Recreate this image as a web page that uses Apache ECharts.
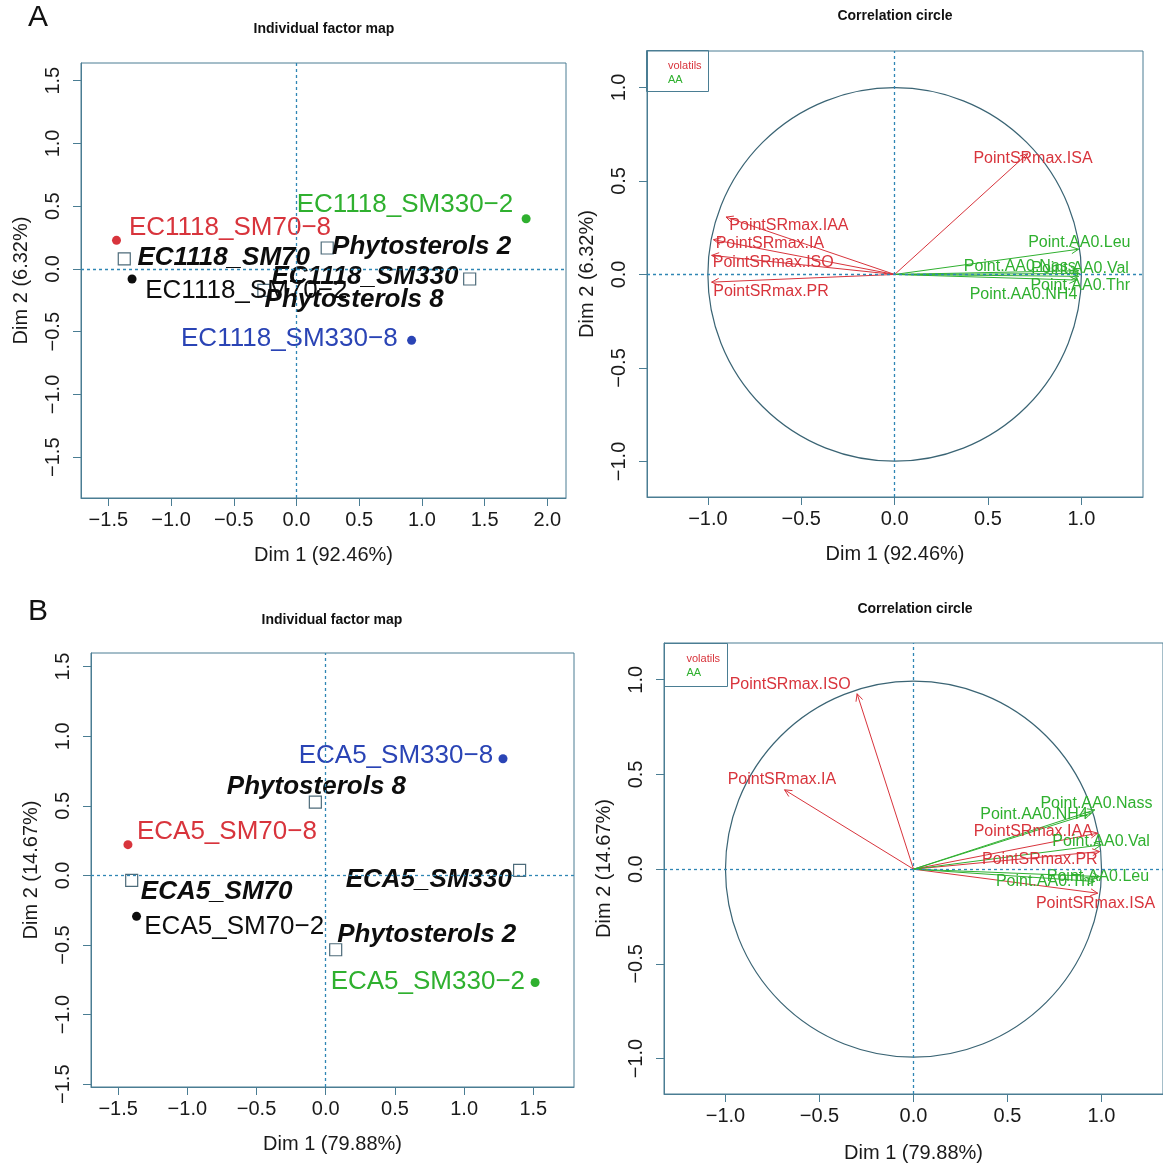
<!DOCTYPE html>
<html>
<head>
<meta charset="utf-8">
<title>PCA factor maps</title>
<script src="https://cdn.jsdelivr.net/npm/echarts@6.0.0/dist/echarts.min.js"></script>
<style>
html, body { margin: 0; padding: 0; background: #fff; }
#chart { width: 1163px; height: 1164px; }
</style>
</head>
<body>
<div id="chart"></div>
<script>
// ---------- A : EC1118 ----------
const indNamesA = ['EC1118_SM70-8', 'EC1118_SM70-2', 'EC1118_SM330-2', 'EC1118_SM330-8']
const indXA = [-1.435, -1.311, 1.831, 0.918]
const indYA = [0.228, -0.080, 0.400, -0.569]
const indLabXA = [-0.53, -0.40, 0.865, -0.057]
const indLabYA = [0.327, -0.178, 0.507, -0.558]
const supNamesA = ['EC1118_SM70', 'EC1118_SM330', 'Phytosterols 2', 'Phytosterols 8']
const supXA = [-1.373, 1.381, 0.245, -0.26]
const supYA = [0.080, -0.080, 0.167, -0.17]
const supLabXA = [-0.58, 0.546, 0.998, 0.46]
const supLabYA = [0.088, -0.059, 0.18, -0.245]

const volNamesA = ['PointSRmax.ISA', 'PointSRmax.IAA', 'PointSRmax.IA', 'PointSRmax.ISO', 'PointSRmax.PR']
const volXA = [0.712, -0.903, -0.970, -0.980, -0.980]
const volYA = [0.646, 0.307, 0.186, 0.102, -0.041]
const volLabXA = [0.741, -0.566, -0.668, -0.65, -0.662]
const volLabYA = [0.619, 0.262, 0.164, 0.066, -0.089]
const aaNamesA = ['Point.AA0.Leu', 'Point.AA0.Nass', 'Point.AA0.Val', 'Point.AA0.Thr', 'Point.AA0.NH4']
const aaXA = [0.985, 0.985, 0.99, 0.985, 0.975]
const aaYA = [0.135, 0.02, 0.005, -0.01, -0.03]
const aaLabXA = [0.989, 0.67, 0.993, 0.994, 0.69]
const aaLabYA = [0.173, 0.044, 0.03, -0.059, -0.105]

// ---------- B : ECA5 ----------
const indNamesB = ['ECA5_SM70-8', 'ECA5_SM70-2', 'ECA5_SM330-2', 'ECA5_SM330-8']
const indXB = [-1.429, -1.367, 1.513, 1.281]
const indYB = [0.221, -0.294, -0.769, 0.838]
const indLabXB = [-0.714, -0.661, 0.738, 0.507]
const indLabYB = [0.316, -0.366, -0.761, 0.862]
const supNamesB = ['ECA5_SM70', 'ECA5_SM330', 'Phytosterols 2', 'Phytosterols 8']
const supXB = [-1.402, 1.401, 0.072, -0.075]
const supYB = [-0.036, 0.036, -0.534, 0.527]
const supLabXB = [-0.788, 0.745, 0.73, -0.067]
const supLabYB = [-0.115, -0.031, -0.426, 0.639]

const volNamesB = ['PointSRmax.ISO', 'PointSRmax.IA', 'PointSRmax.IAA', 'PointSRmax.PR', 'PointSRmax.ISA']
const volXB = [-0.30, -0.686, 0.98, 0.99, 0.98]
const volYB = [0.926, 0.419, 0.19, 0.093, -0.127]
const volLabXB = [-0.656, -0.70, 0.637, 0.672, 0.968]
const volLabYB = [0.974, 0.472, 0.199, 0.049, -0.18]
const aaNamesB = ['Point.AA0.Nass', 'Point.AA0.NH4', 'Point.AA0.Val', 'Point.AA0.Leu', 'Point.AA0.Thr']
const aaXB = [0.964, 0.946, 0.999, 0.99, 0.964]
const aaYB = [0.313, 0.296, 0.128, -0.039, -0.065]
const aaLabXB = [0.973, 0.641, 0.998, 0.981, 0.703]
const aaLabYB = [0.345, 0.287, 0.146, -0.039, -0.065]

// axis ticks and titles
const ticksXA = [-1.5, -1, -0.5, 0, 0.5, 1, 1.5, 2]
const ticksXB = [-1.5, -1, -0.5, 0, 0.5, 1, 1.5]
const ticksInd = [-1.5, -1, -0.5, 0, 0.5, 1, 1.5]
const ticksCor = [-1, -0.5, 0, 0.5, 1]
const dim1A = 'Dim 1 (92.46%)'
const dim2A = 'Dim 2 (6.32%)'
const dim1B = 'Dim 1 (79.88%)'
const dim2B = 'Dim 2 (14.67%)'

// styles
const FONT = '"Liberation Sans", Arial, Helvetica, sans-serif'
const BOX = '#4a7d93'
const DASH = '#2f86b4'
const TXT = '#1a1a1a'
const RED = '#d8343c'
const GREEN = '#2fb02f'
const BLUE = '#2a44b5'
const BLACK = '#0d0d0d'
const indColors = [RED, BLACK, GREEN, BLUE]

const minus = s => String(s).replace(/-/g, '\u2212')
const fmt = v => minus(v.toFixed(1))

function xAxis(gi, min, max, ticks, name, gap) {
  return {
    type: 'value', gridIndex: gi, min: min, max: max,
    name: name, nameLocation: 'middle', nameGap: gap,
    nameTextStyle: { fontSize: 20, color: TXT, fontFamily: FONT },
    axisLine: { show: true, onZero: false, lineStyle: { color: BOX, width: 1 } },
    axisTick: { show: true, customValues: ticks, length: 8, lineStyle: { color: BOX } },
    axisLabel: { customValues: ticks, formatter: fmt, fontSize: 20, color: TXT, margin: 12, fontFamily: FONT },
    splitLine: { show: false }
  }
}
function yAxis(gi, min, max, ticks, name) {
  return {
    type: 'value', gridIndex: gi, min: min, max: max,
    name: name, nameLocation: 'middle', nameGap: 50,
    nameTextStyle: { fontSize: 20, color: TXT, fontFamily: FONT },
    axisLine: { show: true, onZero: false, lineStyle: { color: BOX, width: 1 } },
    axisTick: { show: true, customValues: ticks, length: 8, lineStyle: { color: BOX } },
    axisLabel: { customValues: ticks, formatter: fmt, rotate: 90, fontSize: 20, color: TXT, margin: 18, fontFamily: FONT },
    splitLine: { show: false }
  }
}

function zeroLines() {
  return {
    silent: true, symbol: 'none', label: { show: false },
    lineStyle: { color: DASH, type: [3, 3], width: 1.3, opacity: 1 },
    data: [{ xAxis: 0 }, { yAxis: 0 }]
  }
}

function labelSeries(gi, names, xs, ys, styleFor) {
  return {
    type: 'scatter', xAxisIndex: gi, yAxisIndex: gi, symbolSize: 1, silent: true,
    itemStyle: { color: 'rgba(0,0,0,0)', opacity: 1 },
    data: names.map((n, i) => ({
      name: n, value: [xs[i], ys[i]],
      label: Object.assign({
        show: true, position: 'inside', formatter: p => minus(p.name), fontFamily: FONT, opacity: 1
      }, styleFor(i))
    }))
  }
}

function indPanel(gi, names, xs, ys, lx, ly, sNames, sx, sy, slx, sly) {
  return [
    {
      type: 'scatter', xAxisIndex: gi, yAxisIndex: gi, symbol: 'circle', symbolSize: 9, silent: true,
      data: names.map((n, i) => ({ name: n, value: [xs[i], ys[i]], itemStyle: { color: indColors[i], opacity: 1 } })),
      markLine: zeroLines()
    },
    {
      type: 'scatter', xAxisIndex: gi, yAxisIndex: gi, symbol: 'rect', symbolSize: 12, silent: true,
      itemStyle: { color: 'rgba(255,255,255,0)', borderColor: '#4d6b7a', borderWidth: 1.2, opacity: 1 },
      data: sNames.map((n, i) => ({ name: n, value: [sx[i], sy[i]] }))
    },
    labelSeries(gi, names, lx, ly, i => ({ color: indColors[i], fontSize: 26 })),
    labelSeries(gi, sNames, slx, sly, () => ({ color: BLACK, fontSize: 26, fontStyle: 'italic', fontWeight: 'bold' }))
  ]
}

function arrowItem(color) {
  return function (params, api) {
    const o = api.coord([0, 0])
    const p = api.coord([api.value(0), api.value(1)])
    const ang = Math.atan2(p[1] - o[1], p[0] - o[0])
    const L = 8, a = Math.PI / 7
    const h1 = [p[0] - L * Math.cos(ang - a), p[1] - L * Math.sin(ang - a)]
    const h2 = [p[0] - L * Math.cos(ang + a), p[1] - L * Math.sin(ang + a)]
    return {
      type: 'group', children: [
        { type: 'line', shape: { x1: o[0], y1: o[1], x2: p[0], y2: p[1] }, style: { stroke: color, lineWidth: 1 } },
        { type: 'polyline', shape: { points: [h1, p, h2] }, style: { stroke: color, fill: null, lineWidth: 1 } }
      ]
    }
  }
}

function corPanel(gi, vNames, vx, vy, vlx, vly, aNames, ax, ay, alx, aly) {
  return [
    {
      type: 'custom', xAxisIndex: gi, yAxisIndex: gi, silent: true,
      data: [[0, 0]],
      renderItem: (params, api) => {
        const c = api.coord([0, 0])
        const r = api.size([1, 0])[0]
        return { type: 'circle', shape: { cx: c[0], cy: c[1], r: r }, style: { stroke: '#3a6474', fill: null, lineWidth: 1.2 } }
      },
      markLine: zeroLines()
    },
    {
      type: 'custom', name: 'volatils', xAxisIndex: gi, yAxisIndex: gi, silent: true,
      data: vx.map((x, i) => [x, vy[i]]), renderItem: arrowItem(RED)
    },
    {
      type: 'custom', name: 'AA', xAxisIndex: gi, yAxisIndex: gi, silent: true,
      data: ax.map((x, i) => [x, ay[i]]), renderItem: arrowItem(GREEN)
    },
    labelSeries(gi, vNames, vlx, vly, () => ({ color: RED, fontSize: 16 })),
    labelSeries(gi, aNames, alx, aly, () => ({ color: GREEN, fontSize: 16 }))
  ]
}

function legendBox(x, y, w, h, tx) {
  return [
    { type: 'rect', shape: { x: x, y: y, width: w, height: h }, style: { stroke: BOX, fill: null, lineWidth: 1 } },
    { type: 'text', x: tx, y: y + 15, style: { text: 'volatils', fill: RED, font: '11px ' + FONT, verticalAlign: 'middle' } },
    { type: 'text', x: tx, y: y + 29, style: { text: 'AA', fill: GREEN, font: '11px ' + FONT, verticalAlign: 'middle' } }
  ]
}

function title(text, cx, top, size, weight) {
  return {
    text: text, left: cx, top: top, textAlign: 'center', padding: 0,
    textStyle: { fontSize: size, fontWeight: weight, color: '#111', fontFamily: FONT }
  }
}

const chart = echarts.init(document.getElementById('chart'), null, { renderer: 'canvas' })
chart.setOption({
  animation: false,
  backgroundColor: '#fff',
  title: [
    title('A', 38, 3, 30, 'normal'),
    title('B', 38, 597, 30, 'normal'),
    title('Individual factor map', 324, 22, 14, 'bold'),
    title('Correlation circle', 895, 9, 14, 'bold'),
    title('Individual factor map', 332, 613, 14, 'bold'),
    title('Correlation circle', 915, 602, 14, 'bold')
  ],
  grid: [
    { left: 81, top: 63, width: 485, height: 435, show: true, borderColor: BOX, borderWidth: 1 },
    { left: 647, top: 51, width: 496, height: 446, show: true, borderColor: BOX, borderWidth: 1 },
    { left: 91, top: 653, width: 483, height: 434, show: true, borderColor: BOX, borderWidth: 1 },
    { left: 664, top: 643, width: 501, height: 451, show: true, borderColor: BOX, borderWidth: 1 }
  ],
  xAxis: [
    xAxis(0, -1.718, 2.149, ticksXA, dim1A, 47),
    xAxis(1, -1.326, 1.33, ticksCor, dim1A, 47),
    xAxis(2, -1.696, 1.794, ticksXB, dim1B, 47),
    xAxis(3, -1.327, 1.327, ticksCor, dim1B, 49)
  ],
  yAxis: [
    yAxis(0, -1.825, 1.641, ticksInd, dim2A),
    yAxis(1, -1.19, 1.195, ticksCor, dim2A),
    yAxis(2, -1.52, 1.598, ticksInd, dim2B),
    yAxis(3, -1.187, 1.194, ticksCor, dim2B)
  ],
  graphic: legendBox(646.5, 50.5, 62, 41, 668).concat(legendBox(664.5, 643.5, 63, 43, 686.5)),
  series: [].concat(
    indPanel(0, indNamesA, indXA, indYA, indLabXA, indLabYA, supNamesA, supXA, supYA, supLabXA, supLabYA),
    corPanel(1, volNamesA, volXA, volYA, volLabXA, volLabYA, aaNamesA, aaXA, aaYA, aaLabXA, aaLabYA),
    indPanel(2, indNamesB, indXB, indYB, indLabXB, indLabYB, supNamesB, supXB, supYB, supLabXB, supLabYB),
    corPanel(3, volNamesB, volXB, volYB, volLabXB, volLabYB, aaNamesB, aaXB, aaYB, aaLabXB, aaLabYB)
  )
})
</script>
</body>
</html>
